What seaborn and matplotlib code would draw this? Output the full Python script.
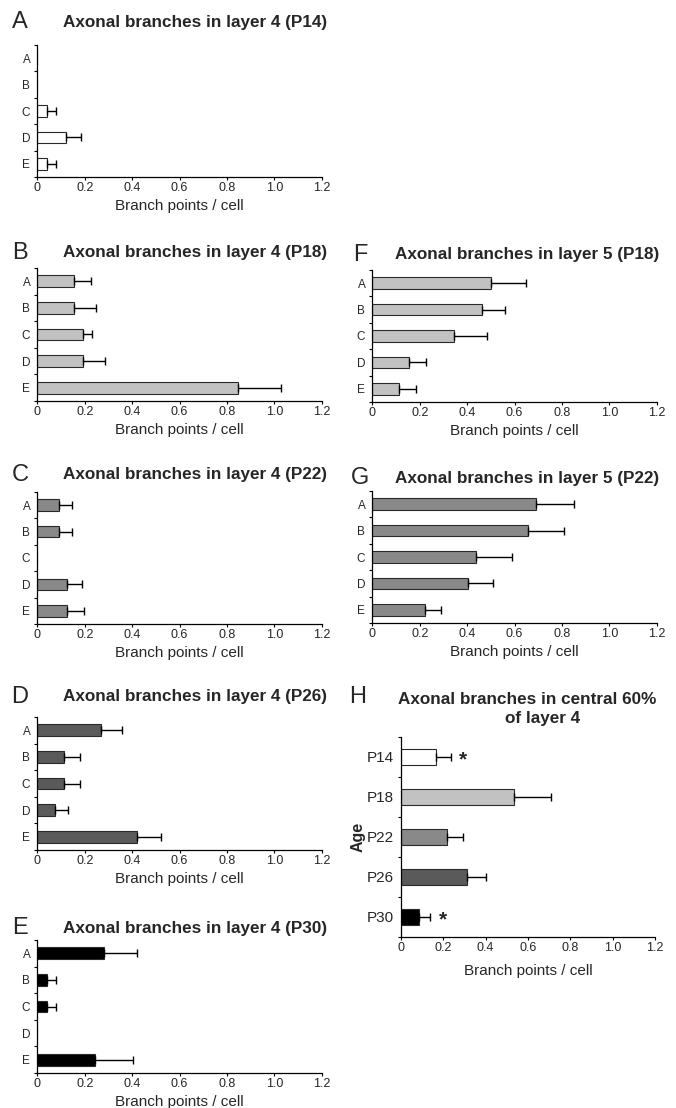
import numpy as np
import pandas as pd
import matplotlib
matplotlib.use("Agg")
import matplotlib.pyplot as plt
from matplotlib.ticker import FixedLocator
import seaborn as sns

sns.set_theme(style="white")
plt.rcParams['font.family'] = ['Liberation Sans', 'DejaVu Sans']

cells = ["A", "B", "C", "D", "E"]
ticks_x = [0, 0.2, 0.4, 0.6, 0.8, 1.0, 1.2]
tick_labels_x = ["0", "0.2", "0.4", "0.6", "0.8", "1.0", "1.2"]

# Layer 4
l4_p14 = [0.0, 0.0, 0.04, 0.12, 0.04]
l4_p14_err = [0.0, 0.0, 0.04, 0.065, 0.04]
l4_p18 = [0.155, 0.155, 0.194, 0.194, 0.845]
l4_p18_err = [0.07, 0.093, 0.036, 0.092, 0.183]
l4_p22 = [0.093, 0.093, 0.0, 0.124, 0.124]
l4_p22_err = [0.052, 0.052, 0.0, 0.063, 0.073]
l4_p26 = [0.269, 0.114, 0.114, 0.075, 0.422]
l4_p26_err = [0.09, 0.066, 0.066, 0.056, 0.098]
l4_p30 = [0.283, 0.04, 0.04, 0.0, 0.243]
l4_p30_err = [0.136, 0.039, 0.039, 0.0, 0.162]
# Layer 5
l5_p18 = [0.50, 0.464, 0.346, 0.155, 0.114]
l5_p18_err = [0.147, 0.096, 0.137, 0.072, 0.069]
l5_p22 = [0.689, 0.658, 0.437, 0.405, 0.222]
l5_p22_err = [0.164, 0.151, 0.151, 0.103, 0.068]
# Central 60% of layer 4
ages = ["P14", "P18", "P22", "P26", "P30"]
central = [0.164, 0.536, 0.219, 0.31, 0.085]
central_err = [0.071, 0.172, 0.076, 0.09, 0.052]
central_sig = [True, False, False, False, True]

col_p14 = "#ffffff"
col_p18 = "#c2c2c2"
col_p22 = "#898989"
col_p26 = "#5a5a5a"
col_p30 = "#000000"
edge = "#2a2a2a"

TITLE_FS = 12.3
LETTER_FS = 17
XLABEL_FS = 11
TICK_FS = 9

fig = plt.figure(figsize=(6.76, 11.08), dpi=100)
W, H = 676.0, 1108.0

def axes_px(x0, x1, y0, y1):
    return fig.add_axes([x0 / W, 1 - y1 / H, (x1 - x0) / W, (y1 - y0) / H])

def style(ax, n, ytick_size, labelpad):
    ax.set_xlim(0, 1.2)
    ax.set_ylim(n - 0.5, -0.5)
    ax.set_xticks(ticks_x)
    ax.set_xticklabels(tick_labels_x)
    ax.yaxis.set_minor_locator(FixedLocator(np.arange(-0.5, n, 1.0)))
    ax.tick_params(axis="y", which="major", length=0, pad=5, labelsize=ytick_size)
    ax.tick_params(axis="y", which="minor", left=True, length=2.5, width=0.8, color="black", direction="out")
    ax.tick_params(axis="x", which="major", bottom=True, length=2, width=0.8, pad=1.5, labelsize=TICK_FS, color="black")
    for s in ["top", "right"]:
        ax.spines[s].set_visible(False)
    for s in ["left", "bottom"]:
        ax.spines[s].set_color("black")
        ax.spines[s].set_linewidth(0.9)
    ax.set_xlabel("Branch points / cell", fontsize=XLABEL_FS, labelpad=labelpad)
    ax.set_ylabel("")
    ax.set_facecolor("white")

def draw(ax, labels, vals, errs, color):
    df = pd.DataFrame({"cat": labels, "val": vals})
    sns.barplot(data=df, x="val", y="cat", orient="h", color=color,
                edgecolor=edge, linewidth=0.8, width=0.44, ax=ax,
                saturation=1, errorbar=None)
    v = np.array(vals); e = np.array(errs)
    idx = np.where(v > 0)[0]
    ax.errorbar(v[idx], idx, xerr=[np.zeros(len(idx)), e[idx]], fmt="none",
                ecolor="black", elinewidth=1.0, capsize=2.8, capthick=1.0)
    style(ax, len(labels), 8.5, 3.5)

LX0, LX1 = 37.3, 321.7
RX0, RX1 = 372.3, 656.7

panels_left = [
    ("A", "Axonal branches in layer 4 (P14)", l4_p14, l4_p14_err, col_p14, 45, 177, 22.5),
    ("B", "Axonal branches in layer 4 (P18)", l4_p18, l4_p18_err, col_p18, 268, 401, 253),
    ("C", "Axonal branches in layer 4 (P22)", l4_p22, l4_p22_err, col_p22, 492, 624, 475),
    ("D", "Axonal branches in layer 4 (P26)", l4_p26, l4_p26_err, col_p26, 717, 850, 697),
    ("E", "Axonal branches in layer 4 (P30)", l4_p30, l4_p30_err, col_p30, 940, 1073, 928),
]
for letter, title, vals, errs, col, y0, y1, ty in panels_left:
    ax = axes_px(LX0, LX1, y0, y1)
    draw(ax, cells, vals, errs, col)
    fig.text(20 / W, 1 - ty / H, letter, fontsize=LETTER_FS, ha="center", va="center")
    fig.text(195 / W, 1 - ty / H, title, fontsize=TITLE_FS, fontweight="bold", ha="center", va="center")

panels_right = [
    ("F", "Axonal branches in layer 5 (P18)", l5_p18, l5_p18_err, col_p18, 270, 402, 255),
    ("G", "Axonal branches in layer 5 (P22)", l5_p22, l5_p22_err, col_p22, 491, 623, 478),
]
for letter, title, vals, errs, col, y0, y1, ty in panels_right:
    ax = axes_px(RX0, RX1, y0, y1)
    draw(ax, cells, vals, errs, col)
    fig.text(360 / W, 1 - ty / H, letter, fontsize=LETTER_FS, ha="center", va="center")
    fig.text(527 / W, 1 - ty / H, title, fontsize=TITLE_FS, fontweight="bold", ha="center", va="center")

# Panel H
axh = axes_px(401, 655, 737, 937)
dfh = pd.DataFrame({"age": ages, "val": central})
sns.barplot(data=dfh, x="val", y="age", hue="age", orient="h",
            palette=[col_p14, col_p18, col_p22, col_p26, col_p30],
            edgecolor=edge, linewidth=0.8, width=0.42, ax=axh,
            saturation=1, errorbar=None, legend=False)
vh = np.array(central); eh = np.array(central_err)
axh.errorbar(vh, np.arange(len(ages)), xerr=[np.zeros(len(ages)), eh], fmt="none",
             ecolor="black", elinewidth=1.0, capsize=2.8, capthick=1.0)
for i, sig in enumerate(central_sig):
    if sig:
        axh.text(vh[i] + eh[i] + 0.04, i + 0.08, "*", fontsize=15, fontweight="bold",
                 ha="left", va="center")
style(axh, len(ages), 11, 7)
fig.text(358 / W, 1 - 837 / H, "Age", fontsize=11.5, fontweight="bold", rotation=90,
         ha="center", va="center")
fig.text(358 / W, 1 - 697 / H, "H", fontsize=LETTER_FS, ha="center", va="center")
fig.text(527 / W, 1 - 700 / H, "Axonal branches in central 60%", fontsize=TITLE_FS,
         fontweight="bold", ha="center", va="center")
fig.text(543 / W, 1 - 718 / H, "of layer 4", fontsize=TITLE_FS,
         fontweight="bold", ha="center", va="center")

fig.savefig("out.png", dpi=100, facecolor="white")
